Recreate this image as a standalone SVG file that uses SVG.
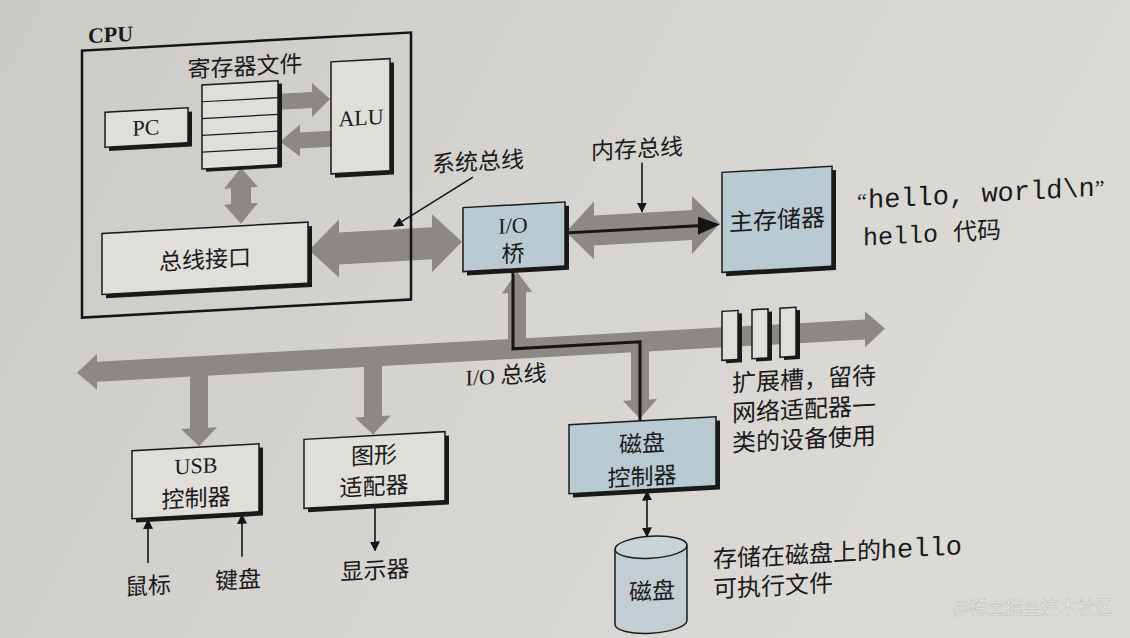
<svg xmlns="http://www.w3.org/2000/svg" width="1130" height="638" viewBox="0 0 1130 638">
<defs>
<linearGradient id="paper" x1="0" y1="0" x2="1" y2="0.3">
<stop offset="0" stop-color="#cccac6"/>
<stop offset="0.6" stop-color="#d7d5d1"/>
<stop offset="1" stop-color="#dcdad6"/>
</linearGradient>
<marker id="ahs" viewBox="0 0 10 10" refX="9" refY="5" markerWidth="10" markerHeight="10" orient="auto-start-reverse" markerUnits="userSpaceOnUse">
<path d="M0,0 L10,5 L0,10 Z" fill="#151515"/>
</marker>
</defs>
<style>
.box{fill:#e0ded9;stroke:#1a1a1a;stroke-width:1.5}
.blue{fill:#b9cad3;stroke:#1a1a1a;stroke-width:1.5}
.sh{fill:#1a1a1a}
.bus{fill:#8b8885}
.thin{stroke:#151515;stroke-width:1.6;fill:none}
.cn{font-family:"Noto Sans CJK SC","Noto Sans",sans-serif;font-size:23px;fill:#1a1a1a}
.lat{font-family:"Liberation Serif","Noto Sans CJK SC",serif;font-size:22px;fill:#1a1a1a}
.mono{font-family:"Liberation Mono","DejaVu Sans Mono",monospace;fill:#1a1a1a}
.mid{text-anchor:middle}
.big{font-size:24px}
</style>
<rect x="0" y="0" width="1130" height="638" fill="url(#paper)"/>
<g transform="matrix(1 -0.055 0 1 0 31.075)">
<g id="connectors">
<polygon class="bus" points="77,346 97,328 97,336 865,336 865,328 885,346 865,364 865,356 97,356 97,364"/>
<polygon class="bus" points="190,350 208,350 208,408 217,408 199,426 181,408 190,408"/>
<polygon class="bus" points="364,350 382,350 382,406 391,406 373,424 355,406 364,406"/>
<polygon class="bus" points="508,346 508,290 502,290 517,269 532,290 526,290 526,346"/>
<polygon class="bus" points="631,346 649,346 649,404 657,404 640,423 623,404 631,404"/>
<polygon class="bus" points="309,236 339,207 339,220 432,220 432,207 462,236 432,265 432,252 339,252 339,265"/>
<polygon class="bus" points="566,232 594,203 594,217 692,217 692,203 720,232 692,261 692,247 594,247 594,261"/>
<polygon class="bus" points="279,78 312,78 312,69 330,86 312,103 312,94 279,94"/>
<polygon class="bus" points="331,118 300,118 300,110 280,126 300,142 300,134 331,134"/>
<polygon class="bus" points="241,150 258,170 251,170 251,186 258,186 241,206 224,186 231,186 231,170 224,170"/>
<polyline points="640,430 640,346 513,346 513,233 702,233" fill="none" stroke="#151515" stroke-width="3"/>
<polygon points="720,233 698,224 698,242" fill="#151515"/>
<line class="thin" x1="473" y1="172" x2="394" y2="217" marker-end="url(#ahs)"/>
<line class="thin" x1="642" y1="167" x2="642" y2="216" marker-end="url(#ahs)"/>
<line class="thin" x1="148" y1="540" x2="148" y2="497" marker-end="url(#ahs)"/>
<line class="thin" x1="242" y1="539" x2="242" y2="497" marker-end="url(#ahs)"/>
<line class="thin" x1="375" y1="495" x2="375" y2="540" marker-end="url(#ahs)"/>
<line class="thin" x1="647" y1="496" x2="647" y2="541" marker-start="url(#ahs)" marker-end="url(#ahs)"/>
</g>
<g id="cpu">
<text class="lat" x="88" y="17" font-weight="bold">CPU</text>
<rect x="82" y="24" width="329" height="267" fill="none" stroke="#151515" stroke-width="2.5"/>
</g>
<g id="regfile">
<text class="cn mid" x="245" y="57">寄存器文件</text>
<rect class="sh" x="206" y="68" width="76" height="84"/>
<rect class="box" x="202" y="65" width="76" height="84"/>
<path d="M202,81.8H278M202,98.6H278M202,115.4H278M202,132.2H278" stroke="#1a1a1a" stroke-width="1.2"/>
</g>
<g id="alu">
<rect class="sh" x="335" y="53" width="59" height="112"/>
<rect class="box" x="331" y="49" width="59" height="112"/>
<text class="lat mid" x="361" y="114">ALU</text>
</g>
<g id="pc">
<rect class="sh" x="109" y="91" width="83" height="35"/>
<rect class="box" x="105" y="87" width="83" height="35"/>
<text class="lat mid" x="146" y="112">PC</text>
</g>
<g id="businterface">
<rect class="sh" x="106" y="212" width="206" height="61"/>
<rect class="box" x="102" y="208" width="206" height="61"/>
<text class="cn mid" x="205" y="248">总线接口</text>
</g>
<g id="syslabel">
<text class="cn mid" x="478" y="165">系统总线</text>
</g>
<g id="memlabel">
<text class="cn mid" x="637" y="161">内存总线</text>
</g>
<g id="iobridge">
<rect class="sh" x="467" y="206" width="102" height="64"/>
<rect class="blue" x="463" y="202" width="102" height="64"/>
<text class="lat mid" x="513" y="230">I/O</text>
<text class="cn mid" x="513" y="259">桥</text>
</g>
<g id="mainmemory">
<rect class="sh" x="726" y="185" width="110" height="100"/>
<rect class="blue" x="722" y="181" width="110" height="100"/>
<text class="cn mid big" x="777" y="240">主存储器</text>
</g>
<g id="memtext">
<text x="857" y="225"><tspan class="lat" font-size="26">“</tspan><tspan class="mono" x="868" font-size="27">hello, world\n</tspan><tspan class="lat" font-size="26">”</tspan></text>
<text x="863" y="262"><tspan class="mono" font-size="25">hello </tspan><tspan class="cn big">代码</tspan></text>
</g>
<g id="iobuslabel">
<text x="506" y="380" class="mid"><tspan class="lat">I/O </tspan><tspan class="cn">总线</tspan></text>
</g>
<g id="slots">
<rect class="sh" x="726" y="323" width="16" height="49"/>
<rect class="box" x="722" y="320" width="16" height="49"/>
<rect class="sh" x="756" y="323" width="16" height="49"/>
<rect class="box" x="752" y="320" width="16" height="49"/>
<rect class="sh" x="784" y="323" width="16" height="49"/>
<rect class="box" x="780" y="320" width="16" height="49"/>
</g>
<g id="slottext">
<text class="cn big" x="732" y="401">扩展槽，留待</text>
<text class="cn big" x="732" y="431">网络适配器一</text>
<text class="cn big" x="732" y="461">类的设备使用</text>
</g>
<g id="usb">
<rect class="sh" x="136" y="431" width="127" height="68"/>
<rect class="box" x="132" y="427" width="127" height="68"/>
<text class="lat mid" x="196" y="453">USB</text>
<text class="cn mid" x="196" y="486">控制器</text>
</g>
<g id="graphics">
<rect class="sh" x="308" y="429" width="141" height="69"/>
<rect class="box" x="304" y="425" width="141" height="69"/>
<text class="cn mid" x="374" y="453">图形</text>
<text class="cn mid" x="374" y="484">适配器</text>
</g>
<g id="mouse"><text class="cn mid" x="148" y="571">鼠标</text></g>
<g id="keyboard"><text class="cn mid" x="238" y="570">键盘</text></g>
<g id="display"><text class="cn mid" x="375" y="568">显示器</text></g>
<g id="diskcontroller">
<rect class="sh" x="573" y="429" width="147" height="69"/>
<rect class="blue" x="569" y="425" width="147" height="69"/>
<text class="cn mid" x="642" y="456">磁盘</text>
<text class="cn mid" x="642" y="489">控制器</text>
</g>
<g id="disk">
<path d="M615,552 V627 A36,11 0 0 0 687,627 V552" fill="#c3cdd2" stroke="#1a1a1a" stroke-width="1.5"/>
<ellipse cx="651" cy="552" rx="36" ry="11" fill="#c9d3d8" stroke="#1a1a1a" stroke-width="1.5"/>
<text class="cn mid" x="652" y="604">磁盘</text>
</g>
<g id="disktext">
<text x="713" y="576"><tspan class="cn big">存储在磁盘上的</tspan><tspan class="mono" font-size="27">hello</tspan></text>
<text class="cn big" x="713" y="606">可执行文件</text>
</g>
</g>
<text x="952" y="614" font-family="'Noto Sans CJK SC',sans-serif" font-size="18" fill="#eeeeee" stroke="#b5b3af" stroke-width="0.4">@稀土掘金技术社区</text>
</svg>
